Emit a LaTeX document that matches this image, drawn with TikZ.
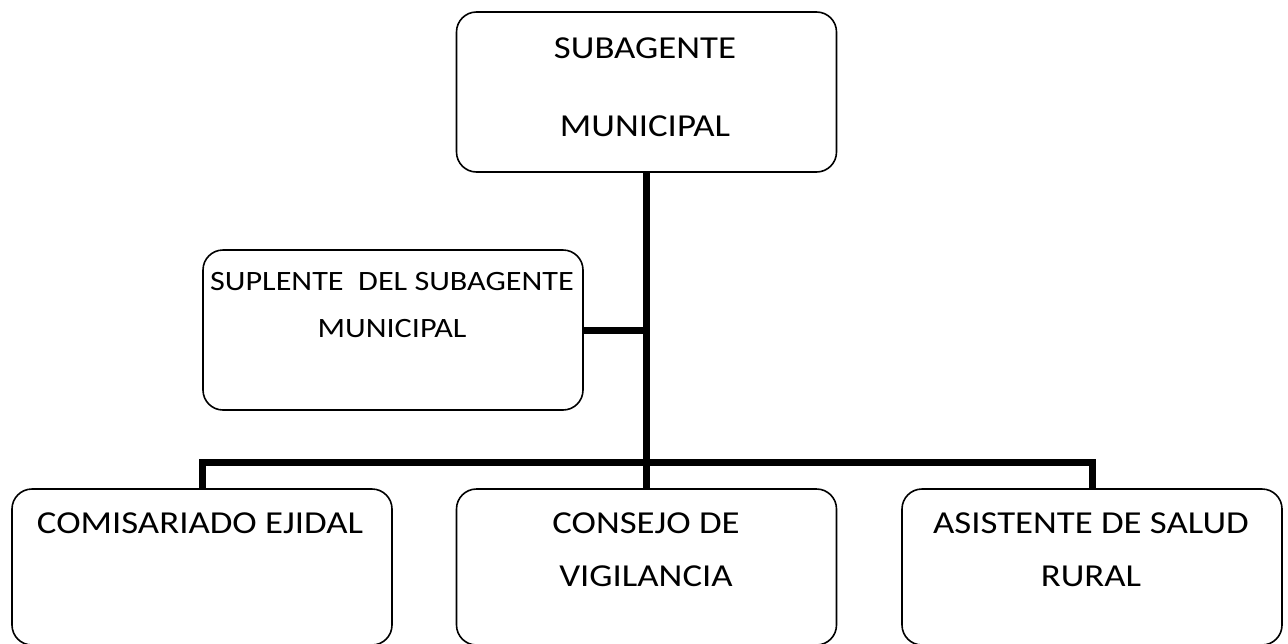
\documentclass[tikz,border=0pt]{standalone}
\usepackage{fontspec}
\setmainfont[FakeStretch=1.15]{Carlito}
\begin{document}
\begin{tikzpicture}[x=0.5pt, y=-0.5pt]
	    \tikzset{cargo/.style={draw, line width=0.8pt, rounded corners=10pt, minimum width=190pt, inner sep=0pt}}
	    \tikzset{rotulo/.style={anchor=north, inner sep=0pt, align=center, font=\fontsize{16}{26.5}\selectfont}}
	    \tikzset{enlace/.style={line width=3.5pt}}
	    \useasboundingbox (0,0) rectangle (1288,643);
	    \node[cargo, minimum height=80pt] (sub) at (646.5,92) {};
	    \node[cargo, minimum height=80pt] (supl) at (393,330) {};
	    \node[cargo, minimum height=78pt] (comi) at (202,567) {};
	    \node[cargo, minimum height=78pt] (cons) at (646.5,567) {};
	    \node[cargo, minimum height=78pt] (asis) at (1092,567) {};
	    \node[rotulo, font=\fontsize{16}{39}\selectfont] (subt) at (645,37) {SUBAGENTE\\MUNICIPAL};
	    \node[rotulo, font=\fontsize{14}{23.5}\selectfont] (suplt) at (392,272) {SUPLENTE\ \ DEL SUBAGENTE\\MUNICIPAL};
	    \node[rotulo] (comit) at (200,512) {COMISARIADO EJIDAL};
	    \node[rotulo] (const) at (646,512) {CONSEJO DE\\VIGILANCIA};
	    \node[rotulo] (asist) at (1091,512) {ASISTENTE DE SALUD\\RURAL};
	    \coordinate (bus) at (646.5,462);
	    \draw[enlace] (sub.south) -- (cons.north);
	    \draw[enlace] (supl.east) -- (supl.east -| sub.south);
	    \draw[enlace] (comi.north) |- (bus) -| (asis.north);
\end{tikzpicture}
\end{document}
